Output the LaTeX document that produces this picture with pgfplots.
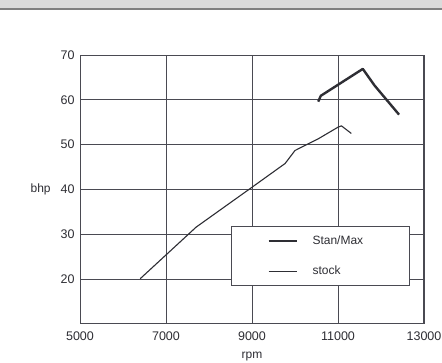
\documentclass[border=0pt]{standalone}
\usepackage{fontspec}
\setmainfont{Liberation Sans}
\usepackage{pgfplots}
\pgfplotsset{compat=1.18}
\definecolor{ink}{HTML}{2E2E34}
\definecolor{gridc}{HTML}{4A4A52}
\begin{document}
\fontsize{12.5}{14}\selectfont
\begin{tikzpicture}
\useasboundingbox (0pt,0pt) rectangle (442pt,363pt);
\fill[white] (0pt,0pt) rectangle (442pt,363pt);
\fill[black!14!white] (0pt,354pt) rectangle (442pt,363pt);
\draw[black!50, line width=1.2pt] (0pt,354pt) -- (442pt,354pt);
\begin{axis}[
  at={(80pt,39pt)}, anchor=south west,
  scale only axis, width=344pt, height=269pt,
  xmin=5000, xmax=13000, ymin=10, ymax=70,
  xtick={5000,7000,9000,11000,13000},
  ytick={20,30,40,50,60,70},
  scaled x ticks=false,
  /pgf/number format/1000 sep={},
  /pgf/number format/assume math mode=true,
  tick style={draw=none},
  grid=major,
  major grid style={draw=gridc, line width=0.8pt},
  axis line style={draw=gridc, line width=1pt},
  tick label style={font=\fontsize{12.5}{14}\selectfont, text=ink},
  xticklabel style={yshift=-3pt},
  yticklabel style={xshift=-1pt},
  xlabel={rpm},
  xlabel style={font=\fontsize{12}{14}\selectfont, text=ink, yshift=-3pt},
  ylabel={bhp},
  ylabel style={rotate=-90, at={(axis description cs:0,0.5)}, anchor=east, xshift=-25pt, font=\fontsize{12}{14}\selectfont, text=ink},
  legend style={at={(0.439,0.364)}, anchor=north west, draw=gridc, line width=1pt,
    fill=white, inner xsep=0pt, inner ysep=7pt, row sep=16pt,
    font=\fontsize{12}{14}\selectfont, text=ink},
  legend cell align=left,
  legend image code/.code={\path[draw=none] (-37pt,0pt) -- (42pt,0pt); \draw[#1] (0pt,0pt) -- (28pt,0pt);},
]
\addplot[ink, line width=2.4pt, line join=round] coordinates {
 (10540,59.6) (10600,60.9) (11577,66.9) (11850,63.2) (12420,56.7)
};
\addlegendentry{\makebox[95pt][l]{Stan/Max}}
\addplot[ink, line width=1.1pt, line join=round] coordinates {
 (6400,20.1) (7700,31.6) (9000,40.5) (9770,45.8) (10000,48.7)
 (10540,51.3) (11000,53.9) (11080,54.2) (11310,52.5)
};
\addlegendentry{\makebox[95pt][l]{stock}}
\end{axis}
\end{tikzpicture}
\end{document}
